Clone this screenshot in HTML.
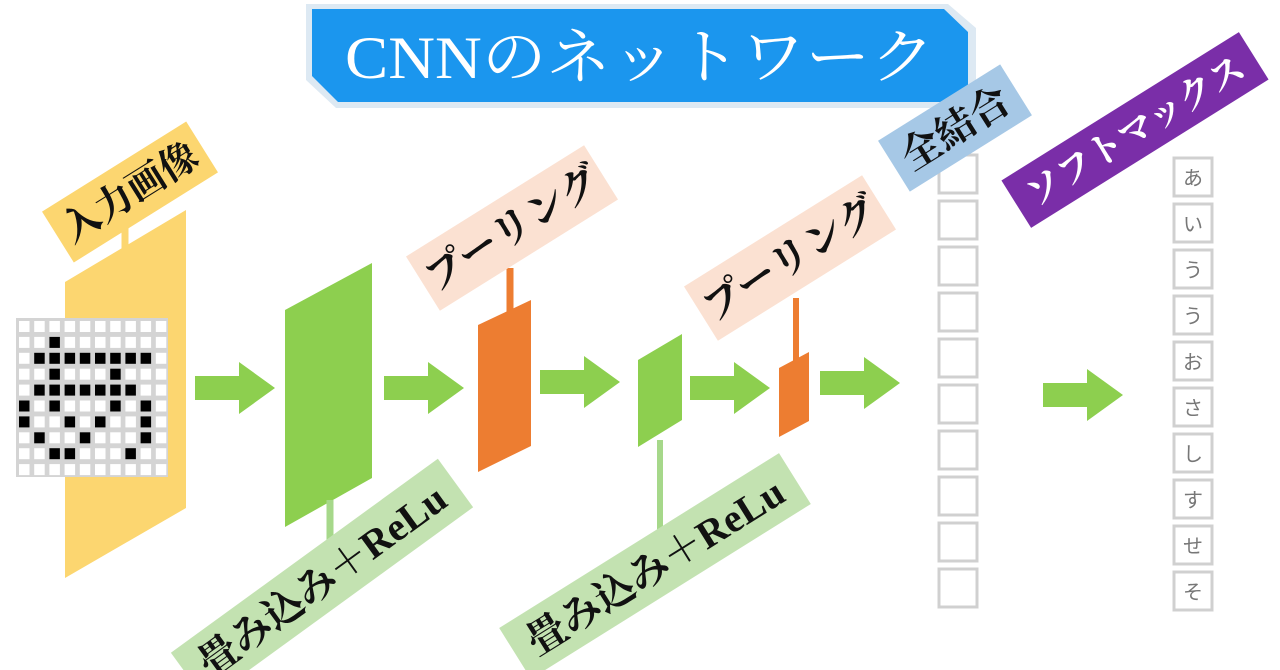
<!DOCTYPE html>
<html><head><meta charset="utf-8"><style>
html,body{margin:0;padding:0;background:#fff;width:1280px;height:670px;overflow:hidden}
svg{display:block}
.jp{font-family:"Liberation Serif","Noto Serif CJK SC","Noto Sans CJK JP",serif}
</style></head><body>
<svg width="1280" height="670" viewBox="0 0 1280 670" xmlns="http://www.w3.org/2000/svg">
<defs>
<g id="arr"><polygon points="0,-12 44,-12 44,-26 80,0 44,26 44,12 0,12" fill="#8dcf4f"/></g>
</defs>
<!-- title -->
<polygon points="306,4 948,4 976,28 976,108 336,108 306,80" fill="#dde9f3"/>
<polygon points="312,9 944,9 968,32 968,102 338,102 312,76" fill="#1b96ee"/>
<text x="640" y="78" text-anchor="middle" class="jp" font-size="60" fill="#fff" textLength="590" lengthAdjust="spacingAndGlyphs">CNNのネットワーク</text>

<!-- yellow input -->
<line x1="125" y1="225" x2="125" y2="262" stroke="#fcd670" stroke-width="7"/>
<polygon points="65,282 186,210 186,508 65,578" fill="#fcd670"/>
<g transform="translate(130,192) rotate(-32)">
<rect x="-85" y="-30" width="170" height="60" fill="#fcd670"/>
<text x="0" y="13" text-anchor="middle" class="jp" font-size="38" font-weight="bold" fill="#111">入力画像</text>
</g>
<!-- grid -->
<rect x="16" y="318" width="152" height="159" fill="#d4d4d4"/>
<g id="grid"></g>

<!-- arrows -->
<use href="#arr" x="195" y="388"/>
<use href="#arr" x="384" y="388"/>
<use href="#arr" x="540" y="382"/>
<use href="#arr" x="690" y="388"/>
<use href="#arr" x="820" y="383"/>
<use href="#arr" x="1043" y="395"/>

<!-- conv1 -->
<polygon points="285,310 372,263 372,478 285,527" fill="#8dcf4f"/>
<line x1="330" y1="500" x2="330" y2="566" stroke="#a6d88a" stroke-width="7"/>
<!-- pool1 -->
<line x1="510" y1="268" x2="510" y2="312" stroke="#ed7d31" stroke-width="7"/>
<polygon points="478,325 531,300 531,446 478,472" fill="#ed7d31"/>
<!-- conv2 -->
<polygon points="638,360 682,334 682,420 638,447" fill="#8dcf4f"/>
<line x1="660" y1="440" x2="660" y2="565" stroke="#a6d88a" stroke-width="6"/>
<!-- pool2 -->
<line x1="796" y1="298" x2="796" y2="362" stroke="#ed7d31" stroke-width="6"/>
<polygon points="779,368 809,352 809,421 779,437" fill="#ed7d31"/>

<!-- pooling labels -->
<g transform="translate(512,228) rotate(-32)">
<rect x="-105" y="-32" width="210" height="64" fill="#fbe1d2"/>
<text x="0" y="14" text-anchor="middle" class="jp" font-size="40" font-weight="bold" fill="#111">プーリング</text>
</g>
<g transform="translate(790,258) rotate(-32)">
<rect x="-105" y="-32" width="210" height="64" fill="#fbe1d2"/>
<text x="0" y="14" text-anchor="middle" class="jp" font-size="40" font-weight="bold" fill="#111">プーリング</text>
</g>
<!-- conv labels -->
<g transform="translate(322,580) rotate(-36)">
<rect x="-165" y="-30" width="330" height="60" fill="#c3e2b1"/>
<text x="0" y="14" text-anchor="middle" class="jp" font-size="40" font-weight="bold" fill="#111">畳み込み＋ReLu</text>
</g>
<g transform="translate(655,566) rotate(-32)">
<rect x="-165" y="-30" width="330" height="60" fill="#c3e2b1"/>
<text x="0" y="14" text-anchor="middle" class="jp" font-size="40" font-weight="bold" fill="#111">畳み込み＋ReLu</text>
</g>

<!-- FC column -->
<g fill="#fff" stroke="#d0d0d0" stroke-width="3">
<rect x="939" y="155" width="38" height="38"/>
<rect x="939" y="201" width="38" height="38"/>
<rect x="939" y="247" width="38" height="38"/>
<rect x="939" y="293" width="38" height="38"/>
<rect x="939" y="339" width="38" height="38"/>
<rect x="939" y="385" width="38" height="38"/>
<rect x="939" y="431" width="38" height="38"/>
<rect x="939" y="477" width="38" height="38"/>
<rect x="939" y="523" width="38" height="38"/>
<rect x="939" y="569" width="38" height="38"/>
</g>
<g transform="translate(955,128) rotate(-32)">
<rect x="-72" y="-30" width="144" height="60" fill="#a6c8e6"/>
<text x="0" y="14" text-anchor="middle" class="jp" font-size="40" font-weight="bold" fill="#111">全結合</text>
</g>
<!-- softmax -->
<g transform="translate(1135,130) rotate(-32)">
<rect x="-140" y="-28" width="280" height="56" fill="#7a2ea8"/>
<text x="0" y="13" text-anchor="middle" class="jp" font-size="36" font-weight="bold" fill="#fff">ソフトマックス</text>
</g>
<g fill="#fff" stroke="#d0d0d0" stroke-width="3">
<rect x="1174" y="158" width="38" height="38"/>
<rect x="1174" y="204" width="38" height="38"/>
<rect x="1174" y="250" width="38" height="38"/>
<rect x="1174" y="296" width="38" height="38"/>
<rect x="1174" y="342" width="38" height="38"/>
<rect x="1174" y="388" width="38" height="38"/>
<rect x="1174" y="434" width="38" height="38"/>
<rect x="1174" y="480" width="38" height="38"/>
<rect x="1174" y="526" width="38" height="38"/>
<rect x="1174" y="572" width="38" height="38"/>
</g>
<g font-family="'Liberation Sans','Noto Sans CJK JP',sans-serif" font-size="20" fill="#777" text-anchor="middle">
<text x="1193" y="185">あ</text><text x="1193" y="231">い</text><text x="1193" y="277">う</text>
<text x="1193" y="323">う</text><text x="1193" y="369">お</text><text x="1193" y="415">さ</text>
<text x="1193" y="461">し</text><text x="1193" y="507">す</text><text x="1193" y="553">せ</text>
<text x="1193" y="599">そ</text>
</g>
<script>
(function(){var B=[[],[2],[1,2,3,4,5,6,7,8],[2,6],[1,2,3,4,5,6,7],[0,2,6,8],[0,3,5,8],[1,4,8],[2,3,7],[]];
var g=document.getElementById('grid'),ns='http://www.w3.org/2000/svg';
for(var r=0;r<10;r++)for(var c=0;c<10;c++){var e=document.createElementNS(ns,'rect');
e.setAttribute('x',19+c*15.2);e.setAttribute('y',321+r*15.9);e.setAttribute('width',10.5);e.setAttribute('height',11);
e.setAttribute('fill',B[r].indexOf(c)>=0?'#000':'#fff');g.appendChild(e);}})();
</script>
</svg>
</body></html>
